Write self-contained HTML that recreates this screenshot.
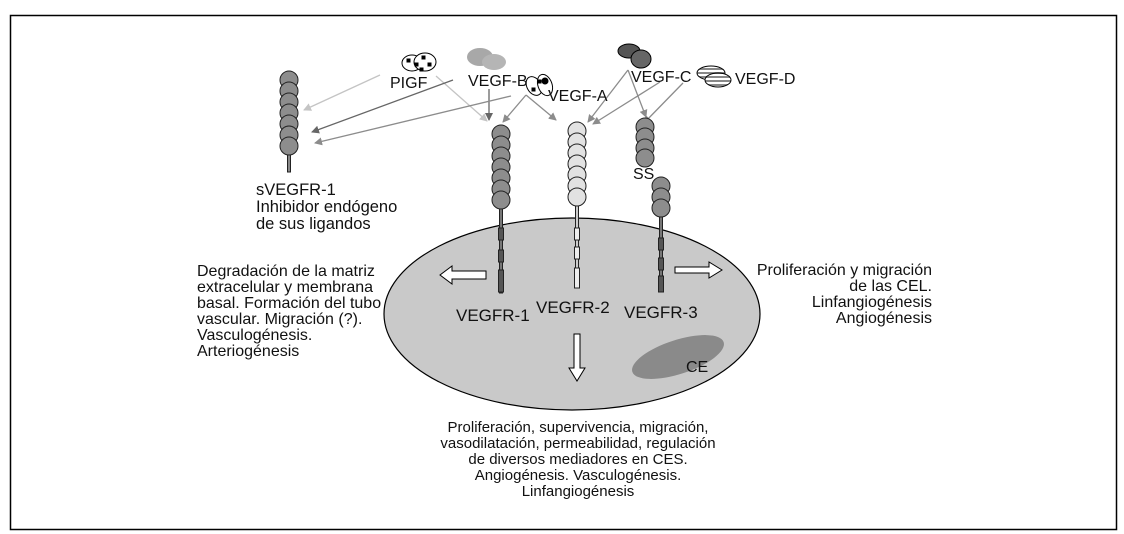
<!DOCTYPE html>
<html><head><meta charset="utf-8"><style>
html,body{margin:0;padding:0;background:#fff}
svg{display:block}
text{font-family:"Liberation Sans",Arial,sans-serif;fill:#111}
</style></head><body>
<svg width="1124" height="534" viewBox="0 0 1124 534" xmlns="http://www.w3.org/2000/svg">
<defs>
<marker id="ml" markerWidth="8" markerHeight="8" refX="7" refY="4" orient="auto" markerUnits="userSpaceOnUse"><path d="M0,0 L8,4 L0,8 z" fill="#c4c4c4"/></marker>
<marker id="mg" markerWidth="8" markerHeight="8" refX="7" refY="4" orient="auto" markerUnits="userSpaceOnUse"><path d="M0,0 L8,4 L0,8 z" fill="#8c8c8c"/></marker>
<marker id="md" markerWidth="8" markerHeight="8" refX="7" refY="4" orient="auto" markerUnits="userSpaceOnUse"><path d="M0,0 L8,4 L0,8 z" fill="#666"/></marker>
<pattern id="str" width="6" height="4" patternUnits="userSpaceOnUse"><rect width="6" height="2" fill="#888"/><rect y="2" width="6" height="2" fill="#fff"/></pattern>
</defs>
<rect x="10.5" y="15.5" width="1106" height="514" fill="none" stroke="#000" stroke-width="1.5"/>

<ellipse cx="572" cy="314" rx="188" ry="96" fill="#c9c9c9" stroke="#000" stroke-width="1.2"/>
<ellipse cx="678" cy="357" rx="48" ry="17" transform="rotate(-18 678 357)" fill="#8a8a8a"/>

<g stroke-width="1.3" fill="none">
<line x1="380" y1="75" x2="304" y2="110" stroke="#c4c4c4" marker-end="url(#ml)"/>
<line x1="436" y1="76" x2="487" y2="121" stroke="#c4c4c4" marker-end="url(#ml)"/>
<line x1="453" y1="80" x2="312" y2="132" stroke="#666" marker-end="url(#md)"/>
<line x1="489" y1="89" x2="489" y2="120" stroke="#666" marker-end="url(#md)"/>
<line x1="511" y1="96" x2="315" y2="143" stroke="#8c8c8c" marker-end="url(#mg)"/>
<line x1="526" y1="95" x2="503" y2="122" stroke="#8c8c8c" marker-end="url(#mg)"/>
<line x1="526" y1="95" x2="556" y2="120" stroke="#8c8c8c" marker-end="url(#mg)"/>
<line x1="628" y1="70" x2="588" y2="122" stroke="#8c8c8c" marker-end="url(#mg)"/>
<line x1="628" y1="70" x2="646" y2="117" stroke="#8c8c8c" marker-end="url(#mg)"/>
<line x1="660" y1="82" x2="593" y2="124" stroke="#8c8c8c" marker-end="url(#mg)"/>
<line x1="683" y1="83" x2="644" y2="123" stroke="#8c8c8c" marker-end="url(#mg)"/>
</g>

<g stroke="#000" stroke-width="1">
<ellipse cx="412" cy="63" rx="10" ry="8" fill="#fff"/><ellipse cx="425" cy="62" rx="11" ry="9" fill="#fff"/>
<rect x="407" y="59" width="3" height="3" fill="#000"/><rect x="415" y="63" width="3" height="3" fill="#000"/><rect x="422" y="56" width="3" height="3" fill="#000"/><rect x="428" y="63" width="3" height="3" fill="#000"/><rect x="420" y="68" width="3" height="3" fill="#000"/>
</g>
<ellipse cx="480" cy="57" rx="13" ry="9" fill="#a8a8a8"/><ellipse cx="494" cy="62" rx="12" ry="8" fill="#b5b5b5"/>
<g stroke="#000" stroke-width="1" fill="#fff">
<ellipse cx="534" cy="86" rx="7" ry="10" transform="rotate(-30 534 86)"/><ellipse cx="545" cy="85" rx="7" ry="11" transform="rotate(-20 545 85)"/>
<circle cx="545" cy="81" r="3" fill="#000"/><rect x="532" y="88" width="3" height="3" fill="#000"/><rect x="538" y="80" width="3" height="3" fill="#000"/>
</g>
<ellipse cx="629" cy="51" rx="11" ry="7" fill="#555" stroke="#000"/><ellipse cx="641" cy="59" rx="10" ry="9" fill="#666" stroke="#000"/>
<ellipse cx="711" cy="73" rx="14" ry="7" fill="url(#str)" stroke="#000"/><ellipse cx="718" cy="80" rx="13" ry="7" fill="url(#str)" stroke="#000"/>

<g stroke="#222" stroke-width="1">
<rect x="287.5" y="146" width="3" height="26" fill="#888"/>
<g fill="#8d8d8d">
<circle cx="289" cy="80" r="9"/><circle cx="289" cy="91" r="9"/><circle cx="289" cy="102" r="9"/><circle cx="289" cy="113" r="9"/><circle cx="289" cy="124" r="9"/><circle cx="289" cy="135" r="9"/><circle cx="289" cy="146" r="9"/>
</g>
<rect x="499.5" y="200" width="3" height="93" fill="#777"/>
<g fill="#555"><rect x="498.5" y="228" width="5" height="12"/><rect x="498.5" y="250" width="5" height="12"/><rect x="498.5" y="270" width="5" height="22"/></g>
<g fill="#8d8d8d">
<circle cx="501" cy="134" r="9"/><circle cx="501" cy="145" r="9"/><circle cx="501" cy="156" r="9"/><circle cx="501" cy="167" r="9"/><circle cx="501" cy="178" r="9"/><circle cx="501" cy="189" r="9"/><circle cx="501" cy="200" r="9"/>
</g>
<rect x="575.5" y="197" width="3" height="91" fill="#ccc"/>
<g fill="#eee"><rect x="574.5" y="228" width="5" height="12"/><rect x="574.5" y="247" width="5" height="12"/><rect x="574.5" y="268" width="5" height="20"/></g>
<g fill="#e2e2e2">
<circle cx="577" cy="131" r="9"/><circle cx="577" cy="142" r="9"/><circle cx="577" cy="153" r="9"/><circle cx="577" cy="164" r="9"/><circle cx="577" cy="175" r="9"/><circle cx="577" cy="186" r="9"/><circle cx="577" cy="197" r="9"/>
</g>
<rect x="659.5" y="210" width="3" height="82" fill="#777"/>
<g fill="#555"><rect x="658.5" y="238" width="5" height="12"/><rect x="658.5" y="258" width="5" height="12"/><rect x="658.5" y="276" width="5" height="16"/></g>
<g fill="#8d8d8d">
<circle cx="645" cy="127" r="9"/><circle cx="645" cy="137" r="9"/><circle cx="645" cy="148" r="9"/><circle cx="645" cy="158" r="9"/>
<circle cx="661" cy="186" r="9"/><circle cx="661" cy="197" r="9"/><circle cx="661" cy="208" r="9"/>
</g>
</g>

<g fill="#fff" stroke="#000" stroke-width="1">
<path d="M486,271 L452,271 L452,266 L440,275 L452,284 L452,279 L486,279 z"/>
<path d="M675,267 L709,267 L709,262 L722,270 L709,278 L709,273 L675,273 z"/>
<path d="M574,334 L580,334 L580,368 L585,368 L577,381 L569,368 L574,368 z"/>
</g>

<g font-size="16">
<text x="390" y="88">PIGF</text>
<text x="468" y="86">VEGF-B</text>
<text x="548" y="101">VEGF-A</text>
<text x="631" y="82">VEGF-C</text>
<text x="735" y="84">VEGF-D</text>
<text x="633" y="179">SS</text>
</g>
<g font-size="17">
<text x="456" y="321">VEGFR-1</text>
<text x="536" y="313">VEGFR-2</text>
<text x="624" y="318">VEGFR-3</text>
<text x="686" y="372" font-size="16">CE</text>
</g>
<g font-size="16.5">
<text x="256" y="195">sVEGFR-1</text>
<text x="256" y="212">Inhibidor endógeno</text>
<text x="256" y="229">de sus ligandos</text>
</g>
<g font-size="16">
<text x="197" y="276">Degradación de la matriz</text>
<text x="197" y="292">extracelular y membrana</text>
<text x="197" y="308">basal. Formación del tubo</text>
<text x="197" y="324">vascular. Migración (?).</text>
<text x="197" y="340">Vasculogénesis.</text>
<text x="197" y="356">Arteriogénesis</text>
<g text-anchor="end">
<text x="932" y="275">Proliferación y migración</text>
<text x="932" y="291">de las CEL.</text>
<text x="932" y="307">Linfangiogénesis</text>
<text x="932" y="323">Angiogénesis</text>
</g>
</g>
<g font-size="15" text-anchor="middle">
<text x="578" y="432">Proliferación, supervivencia, migración,</text>
<text x="578" y="448">vasodilatación, permeabilidad, regulación</text>
<text x="578" y="464">de diversos mediadores en CES.</text>
<text x="578" y="480">Angiogénesis. Vasculogénesis.</text>
<text x="578" y="496">Linfangiogénesis</text>
</g>
</svg>
</body></html>
